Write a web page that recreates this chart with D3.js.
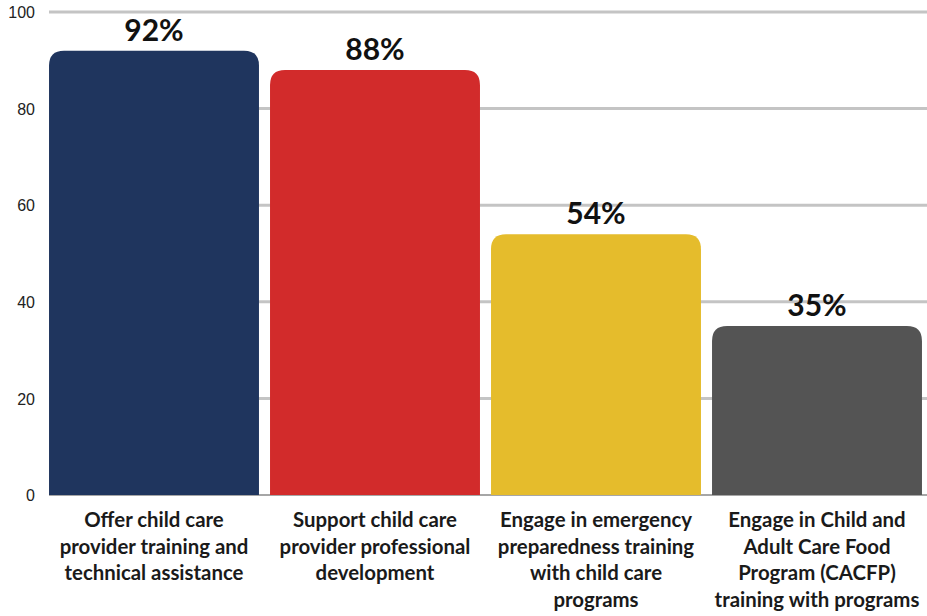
<!DOCTYPE html>
<html><head><meta charset="utf-8">
<script src="https://cdn.jsdelivr.net/npm/d3@7"></script>
<style>body{margin:0;background:#fff}svg{display:block}</style>
</head><body>
<script>
const categories = [
  ["Offer child care","provider training and","technical assistance"],
  ["Support child care","provider professional","development"],
  ["Engage in emergency","preparedness training","with child care","programs"],
  ["Engage in Child and","Adult Care Food","Program (CACFP)","training with programs"]
];
const values = [92, 88, 54, 35];
const valueLabels = ["92%","88%","54%","35%"];
const colors = ["#1f355e","#d22b2b","#e5bc2c","#545454"];
const yTicks = [0,20,40,60,80,100];

const W = 927, H = 616;
const svg = d3.select("body").append("svg").attr("width", W).attr("height", H);
const y = d3.scaleLinear().domain([0,100]).range([495, 12]);
const x = d3.scaleBand().domain(d3.range(values.length)).range([43.5, 927.5])
  .paddingInner(0.05).paddingOuter(0.025);

// gridlines
svg.append("g").selectAll("line").data(yTicks.filter(d=>d>0)).join("line")
  .attr("x1", 49).attr("x2", W).attr("y1", d=>y(d)).attr("y2", d=>y(d))
  .attr("stroke", "#c4c4c4").attr("stroke-width", 3);
svg.append("line").attr("x1",49).attr("x2",W).attr("y1",y(0)).attr("y2",y(0))
  .attr("stroke","#888").attr("stroke-width",1.5);

// y axis labels
const yAxis = d3.axisLeft(y).tickValues(yTicks).tickSize(0).tickPadding(0);
const ga = svg.append("g").attr("transform","translate(35,0)").call(yAxis);
ga.select(".domain").remove();
ga.selectAll("text").attr("font-family","'Liberation Sans', Arial, sans-serif")
  .attr("font-size",16).attr("fill","#222").attr("dy","0.35em");

// bars with rounded top corners
const r = 15;
function barPath(x0, w, yTop, yBot){
  return `M${x0},${yBot} L${x0},${yTop+r} Q${x0},${yTop} ${x0+r},${yTop} L${x0+w-r},${yTop} Q${x0+w},${yTop} ${x0+w},${yTop+r} L${x0+w},${yBot} Z`;
}
svg.append("g").selectAll("path").data(values).join("path")
  .attr("d",(d,i)=>barPath(x(i), x.bandwidth(), y(d), y(0)))
  .attr("fill",(d,i)=>colors[i]);

// value labels
svg.append("g").selectAll("text").data(values).join("text")
  .attr("x",(d,i)=>x(i)+x.bandwidth()/2).attr("y",d=>y(d)-10)
  .attr("text-anchor","middle").attr("font-family","Lato, sans-serif")
  .attr("font-weight","bold").attr("font-size",30).attr("fill","#111")
  .text((d,i)=>valueLabels[i]);

// category labels
const cg = svg.append("g").selectAll("text").data(categories).join("text")
  .attr("text-anchor","middle").attr("font-family","Lato, sans-serif")
  .attr("font-weight","bold").attr("font-size",20.4).attr("fill","#1a1a1a");
cg.each(function(lines,i){
  const t = d3.select(this);
  lines.forEach((l,j)=>{
    t.append("tspan").attr("x", x(i)+x.bandwidth()/2).attr("y", 527 + j*26.7).text(l);
  });
});
</script>
</body></html>
